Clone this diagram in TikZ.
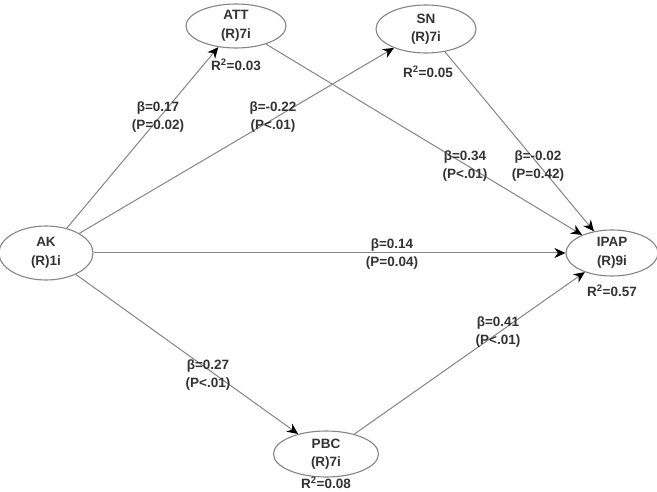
\documentclass[tikz,border=0pt]{standalone}
\usepackage{fontspec}
\setmainfont{Liberation Sans}
\usetikzlibrary{shapes.geometric,arrows.meta}
\definecolor{edgegray}{HTML}{858585}
\definecolor{txt}{HTML}{333333}
\tikzset{
  construct/.style={ellipse, draw=edgegray, line width=1.1pt, inner sep=0pt, align=center,
    font=\bfseries\fontsize{13.5}{18.5}\selectfont, text=txt},
  link/.style={draw=edgegray, line width=1pt, -{Stealth[length=11pt,width=10pt,inset=3.5pt,black]}},
  lbl/.style={align=center, inner sep=0pt, font=\bfseries\fontsize{13.5}{18.5}\selectfont, text=txt},
}
\begin{document}
\begin{tikzpicture}[x=1pt,y=-1pt]
\useasboundingbox (0,0) rectangle (657,492);
\clip (0,0) rectangle (657,492);
\fill[white] (0,0) rectangle (657,492);
% constructs
\node[construct, minimum width=100pt, minimum height=44pt] (att) at (236,26) {ATT\\(R)7i};
\node[construct, minimum width=100pt, minimum height=48pt] (sn) at (426,29) {SN\\(R)7i};
\node[construct, minimum width=94pt, minimum height=54pt] (ak) at (46,253) {AK\\(R)1i};
\node[construct, minimum width=92pt, minimum height=46pt] (ipap) at (612,253) {IPAP\\(R)9i};
\node[construct, minimum width=105pt, minimum height=46pt] (pbc) at (326,454) {PBC\\(R)7i};
% R squared
\node[lbl] (r2att) at (236,65) {R\textsuperscript{2}=0.03};
\node[lbl] (r2sn) at (428,72) {R\textsuperscript{2}=0.05};
\node[lbl] (r2ipap) at (612,291) {R\textsuperscript{2}=0.57};
\node[lbl] (r2pbc) at (326,483) {R\textsuperscript{2}=0.08};
% paths
\draw[link] (ak) -- (att);
\draw[link] (ak) -- (sn);
\draw[link] (ak) -- (ipap);
\draw[link] (ak) -- (pbc);
\draw[link] (att) -- (ipap);
\draw[link] (sn) -- (ipap);
\draw[link] (pbc) -- (ipap);
% path labels
\node[lbl] (l1) at (158,117) {β=0.17\\(P=0.02)};
\node[lbl] (l2) at (273,117) {β=-0.22\\(P<.01)};
\node[lbl] (l3) at (465,166) {β=0.34\\(P<.01)};
\node[lbl] (l4) at (538,166) {β=-0.02\\(P=0.42)};
\node[lbl] (l5) at (392,254) {β=0.14\\(P=0.04)};
\node[lbl] (l6) at (208,375) {β=0.27\\(P<.01)};
\node[lbl] (l7) at (498,332) {β=0.41\\(P<.01)};
\end{tikzpicture}
\end{document}
